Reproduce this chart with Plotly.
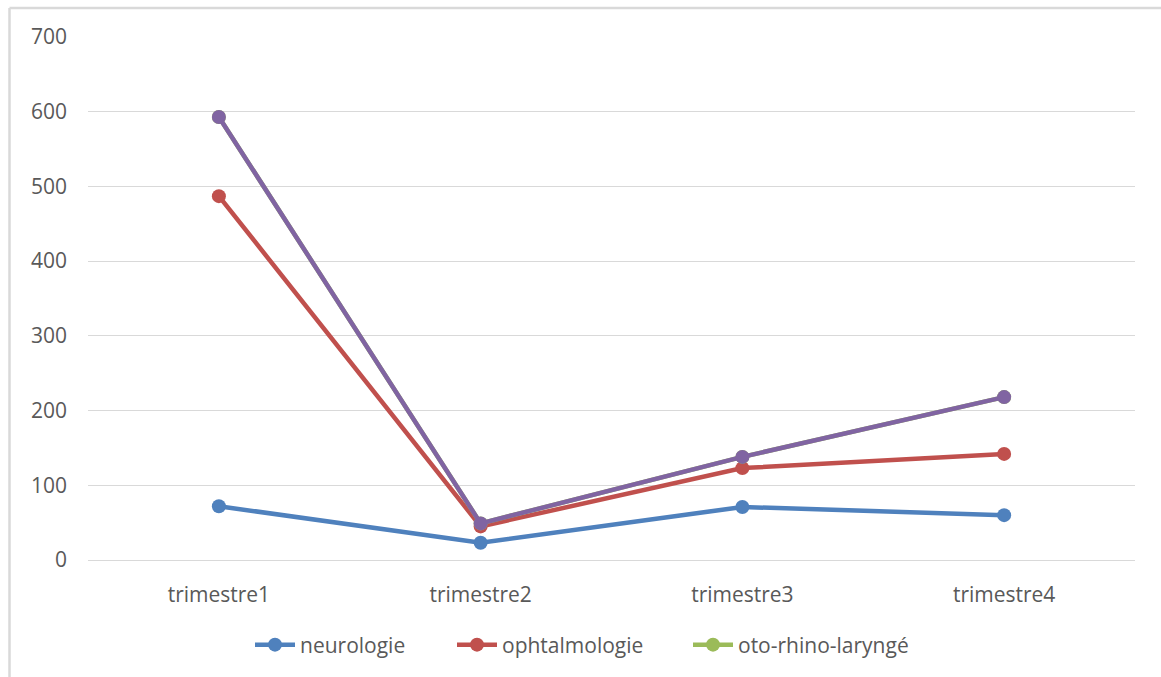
import plotly.graph_objects as go

# Quarterly counts per department
trimestres = ["trimestre1", "trimestre2", "trimestre3", "trimestre4"]
neurologie = [72, 23, 71, 60]
ophtalmologie = [487, 45, 123, 142]
oto_rhino_laryngologie = [593, 49, 138, 218]
total_serie4 = [593, 49, 138, 218]

FONT = "Open Sans"
GRAY = "#595959"
SIZE = 21

W, H = 1161, 677
L, R, T, B = 88, 1135, 37, 560


def px_x(px):
    return (px - L) / (R - L)


def px_y(py):
    return (B - py) / (B - T)


# name, values, colour, legend id (None = not listed), legend left edge in px
series = [
    ("neurologie", neurologie, "#4f81bd", "legend", 250),
    ("ophtalmologie", ophtalmologie, "#c0504d", "legend2", 452),
    ("oto-rhino-laryngé", oto_rhino_laryngologie, "#9bbb59", "legend3", 688),
    ("Série4", total_serie4, "#8064a2", None, None),
]

fig = go.Figure()
legend_layouts = {}
for name, vals, color, leg, left in series:
    fig.add_trace(go.Scatter(
        x=trimestres, y=vals, name=name, mode="lines+markers",
        line=dict(color=color, width=4.5),
        marker=dict(color=color, size=14),
        showlegend=leg is not None,
        legend=leg if leg else "legend",
    ))
    if leg:
        legend_layouts[leg] = dict(
            orientation="h", x=px_x(left), xanchor="left",
            y=px_y(645), yanchor="middle",
            font=dict(family=FONT, size=SIZE, color=GRAY),
            itemwidth=40, bgcolor="rgba(0,0,0,0)",
        )

fig.update_layout(
    width=W, height=H,
    margin=dict(l=L, r=W - R, t=T, b=H - B),
    paper_bgcolor="white", plot_bgcolor="white",
    font=dict(family=FONT, size=SIZE, color=GRAY),
    xaxis=dict(
        type="category", range=[-0.5, 3.5],
        showgrid=False, showline=False, zeroline=False,
        ticks="", ticklabelstandoff=20,
        tickfont=dict(size=SIZE, color=GRAY),
    ),
    yaxis=dict(
        range=[0, 700], dtick=100, tick0=0,
        showgrid=True, gridcolor="#d9d9d9", gridwidth=1,
        zeroline=True, zerolinecolor="#d9d9d9", zerolinewidth=1,
        showline=False, ticks="", ticklabelstandoff=20,
        tickfont=dict(size=SIZE, color=GRAY),
    ),
    showlegend=True,
    **legend_layouts,
)

# Light frame on the left and top edges of the chart area
frame = dict(color="#d9d9d9", width=2.5)
fig.add_shape(type="line", xref="paper", yref="paper",
              x0=px_x(9.5), x1=px_x(9.5), y0=px_y(8), y1=px_y(H + 5), line=frame)
fig.add_shape(type="line", xref="paper", yref="paper",
              x0=px_x(9.5), x1=px_x(W + 5), y0=px_y(8), y1=px_y(8), line=frame)

fig.write_html("out.html")
